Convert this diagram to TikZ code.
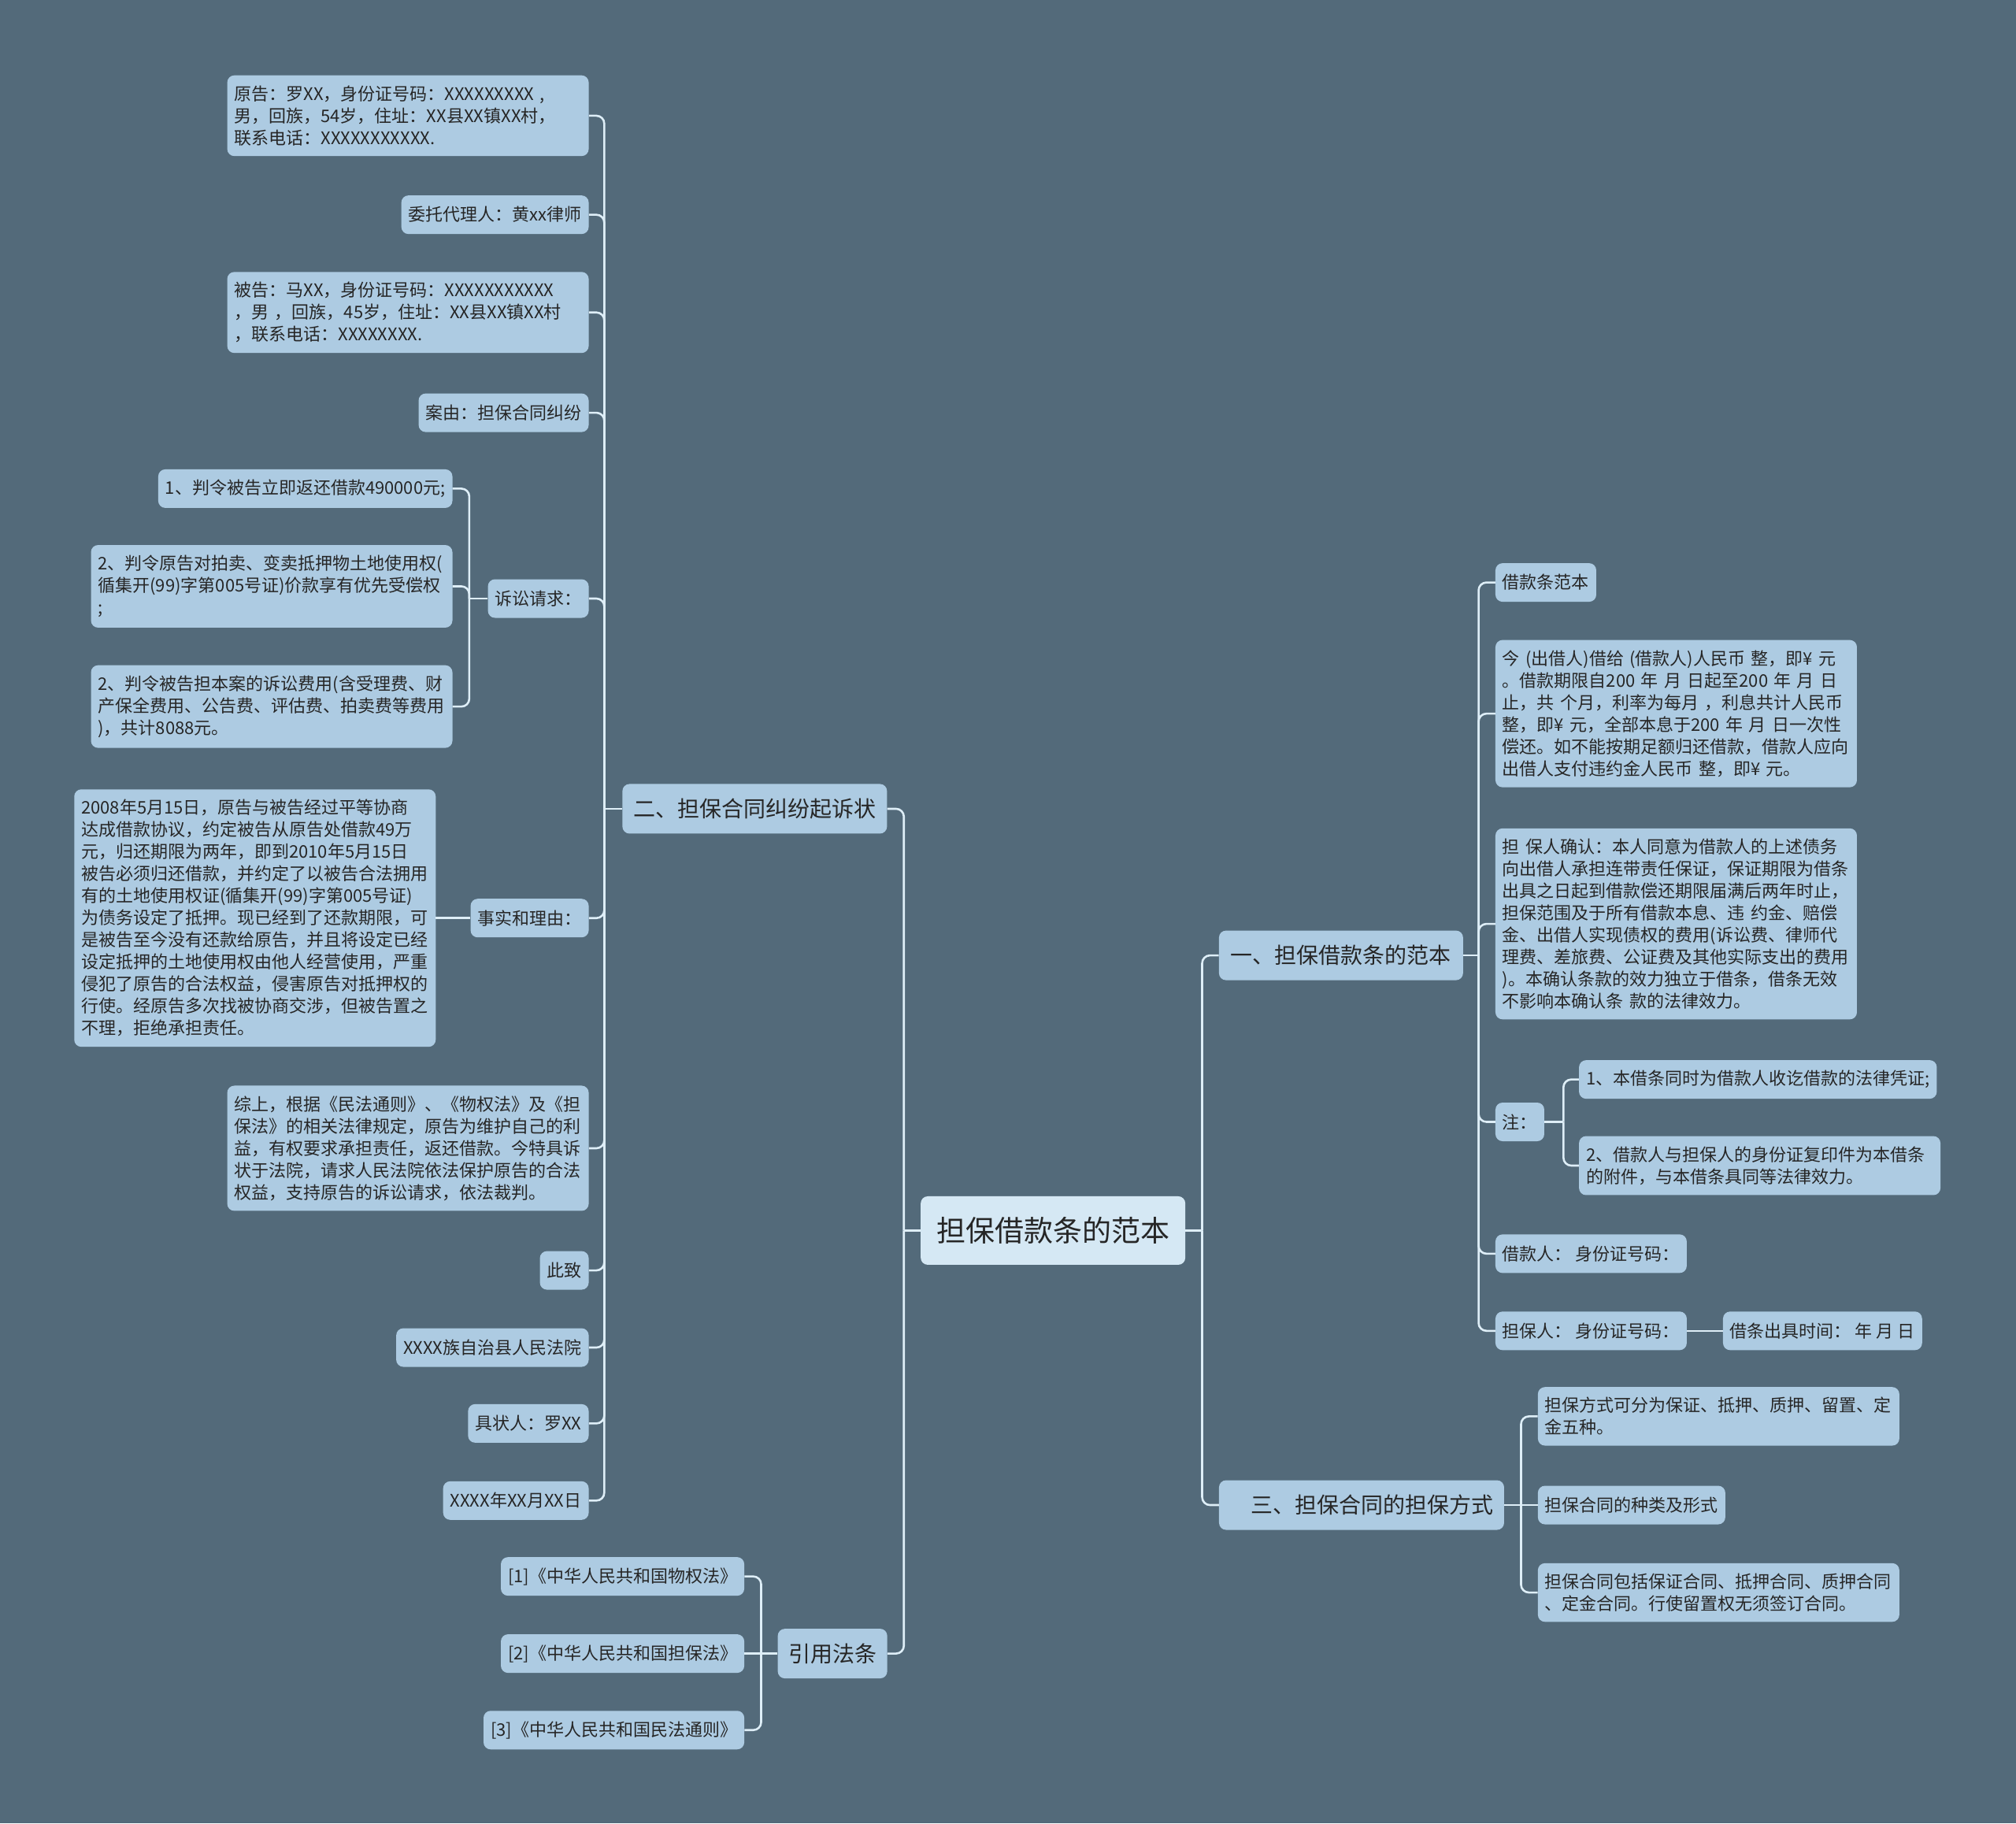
\documentclass[tikz,border=0pt]{standalone}
\usepackage{fontspec}
\setmainfont{Noto Sans CJK SC}
\definecolor{bgc}{RGB}{83,106,122}
\definecolor{boxc}{RGB}{173,203,226}
\definecolor{rootc}{RGB}{213,232,244}
\definecolor{linec}{RGB}{222,238,247}
\definecolor{txtc}{RGB}{38,38,38}
\begin{document}
\begin{tikzpicture}[x=1.6327pt,y=-1.6327pt,
  box/.style={fill=boxc,text=txtc,rounded corners=9pt,inner xsep=9pt,inner ysep=13pt,minimum height=49pt,font=\fontsize{22}{28}\selectfont},
  para/.style={box,text width=441pt,align=left},
  head/.style={box,font=\fontsize{28}{34}\selectfont,minimum height=63pt},
  link/.style={draw=linec,line width=2.6pt,rounded corners=10pt}]
\fill[bgc] (0,0) rectangle (1568,1418);
\node[box,fill=rootc,font=\fontsize{37}{44}\selectfont,minimum width=336pt,minimum height=87pt] (top) at (819,957) {担保借款条的范本};
\node[head,minimum width=336pt] (b2) at (587,629) {二、担保合同纠纷起诉状};
\node[head,minimum width=139pt] (law) at (647.5,1286) {引用法条};
\node[head,minimum width=310pt] (b1) at (1043,743) {一、担保借款条的范本};
\node[head,inner xsep=13pt,anchor=west] (b3) at (948,1170.5) {\hspace*{28pt}三、担保合同的担保方式};
% left: complaint
\node[para,anchor=east] (plf) at (458,90) {原告：罗XX，身份证号码：XXXXXXXXX~,\\男，回族，54岁，住址：XX县XX镇XX村，\\联系电话：XXXXXXXXXXX.};
\node[box,anchor=east] (agent) at (458,167) {委托代理人：黄xx律师};
\node[para,anchor=east] (dft) at (458,243) {被告：马XX，身份证号码：XXXXXXXXXXX\\，男~，回族，45岁，住址：XX县XX镇XX村\\，联系电话：XXXXXXXX.};
\node[box,anchor=east] (cause) at (458,321) {案由：担保合同纠纷};
\node[box,anchor=east] (claim) at (458,465.5) {诉讼请求：};
\node[box,anchor=east] (fact) at (458,714) {事实和理由：};
\node[para,anchor=east] (sum) at (458,893) {综上，根据《民法通则》、《物权法》及《担\\保法》的相关法律规定，原告为维护自己的利\\益，有权要求承担责任，返还借款。今特具诉\\状于法院，请求人民法院依法保护原告的合法\\权益，支持原告的诉讼请求，依法裁判。};
\node[box,anchor=east] (greet) at (458,988) {此致};
\node[box,anchor=east] (court) at (458,1048) {XXXX族自治县人民法院};
\node[box,anchor=east] (signer) at (458,1107) {具状人：罗XX};
\node[box,anchor=east] (date) at (458,1167) {XXXX年XX月XX日};
\node[box,anchor=east] (cl1) at (352,380) {1、判令被告立即返还借款490000元;};
\node[para,anchor=east] (cl2) at (352,456) {2、判令原告对拍卖、变卖抵押物土地使用权(\\循集开(99)字第005号证)价款享有优先受偿权\\;};
\node[para,anchor=east] (cl3) at (352,549.5) {2、判令被告担本案的诉讼费用(含受理费、财\\产保全费用、公告费、评估费、拍卖费等费用\\)，共计8088元。};
\node[para,anchor=east] (factp) at (339,714) {2008年5月15日，原告与被告经过平等协商\\达成借款协议，约定被告从原告处借款49万\\元，归还期限为两年，即到2010年5月15日\\被告必须归还借款，并约定了以被告合法拥用\\有的土地使用权证(循集开(99)字第005号证)\\为债务设定了抵押。现已经到了还款期限，可\\是被告至今没有还款给原告，并且将设定已经\\设定抵押的土地使用权由他人经营使用，严重\\侵犯了原告的合法权益，侵害原告对抵押权的\\行使。经原告多次找被协商交涉，但被告置之\\不理，拒绝承担责任。};
\node[box,anchor=east] (law1) at (579,1226) {[1]《中华人民共和国物权法》};
\node[box,anchor=east] (law2) at (579,1286) {[2]《中华人民共和国担保法》};
\node[box,anchor=east] (law3) at (579,1345.5) {[3]《中华人民共和国民法通则》};
% right: sample note
\node[box,anchor=west] (tpl) at (1163,453) {借款条范本};
\node[para,anchor=west] (loan) at (1163,555) {今~(出借人)借给~(借款人)人民币~整，即¥~元\\。借款期限自200~年~月~日起至200~年~月~日\\止，共~个月，利率为每月~，利息共计人民币\\整，即¥~元，全部本息于200~年~月~日一次性\\偿还。如不能按期足额归还借款，借款人应向\\出借人支付违约金人民币~整，即¥~元。};
\node[para,anchor=west] (guar) at (1163,718.5) {担~保人确认：本人同意为借款人的上述债务\\向出借人承担连带责任保证，保证期限为借条\\出具之日起到借款偿还期限届满后两年时止，\\担保范围及于所有借款本息、违~约金、赔偿\\金、出借人实现债权的费用(诉讼费、律师代\\理费、差旅费、公证费及其他实际支出的费用\\)。本确认条款的效力独立于借条，借条无效\\不影响本确认条~款的法律效力。};
\node[box,anchor=west] (note) at (1163,872.5) {注：};
\node[box,anchor=west] (brw) at (1163,975) {借款人：~身份证号码：};
\node[box,anchor=west] (gnt) at (1163,1035) {担保人：~身份证号码：};
\node[box,anchor=west] (note1) at (1228,839.5) {1、本借条同时为借款人收讫借款的法律凭证;};
\node[para,anchor=west] (note2) at (1228,906.5) {2、借款人与担保人的身份证复印件为本借条\\的附件，与本借条具同等法律效力。};
\node[box,anchor=west] (when) at (1340,1035) {借条出具时间：~年~月~日};
\node[para,anchor=west] (way1) at (1196,1101.5) {担保方式可分为保证、抵押、质押、留置、定\\金五种。};
\node[box,anchor=west] (way2) at (1196,1170.5) {担保合同的种类及形式};
\node[para,anchor=west] (way3) at (1196,1238.5) {担保合同包括保证合同、抵押合同、质押合同\\、定金合同。行使留置权无须签订合同。};
% connectors
\coordinate (jl) at (703,957);
\coordinate (jr) at (935,957);
\coordinate (j2) at (470,629);
\coordinate (j5) at (365,465.5);
\coordinate (j6) at (592,1286);
\coordinate (j1) at (1150,743);
\coordinate (j7) at (1216,872.5);
\coordinate (j3) at (1183,1170.5);
\draw[link] (top.west) -- (jl);
\draw[link] (top.east) -- (jr);
\foreach \c in {b2,law} \draw[link] (jl) |- (\c.east);
\foreach \c in {b1,b3} \draw[link] (jr) |- (\c.west);
\draw[link] (b2.west) -- (j2);
\foreach \c in {plf,agent,dft,cause,claim,fact,sum,greet,court,signer,date} \draw[link] (j2) |- (\c.east);
\draw[link] (claim.west) -- (j5);
\foreach \c in {cl1,cl2,cl3} \draw[link] (j5) |- (\c.east);
\draw[link] (fact.west) -- (factp.east);
\draw[link] (law.west) -- (law2.east);
\foreach \c in {law1,law3} \draw[link] (j6) |- (\c.east);
\draw[link] (b1.east) -- (j1);
\foreach \c in {tpl,loan,guar,note,brw,gnt} \draw[link] (j1) |- (\c.west);
\draw[link] (note.east) -- (j7);
\foreach \c in {note1,note2} \draw[link] (j7) |- (\c.west);
\draw[link] (gnt.east) -- (when.west);
\draw[link] (b3.east) -- (way2.west);
\foreach \c in {way1,way3} \draw[link] (j3) |- (\c.west);
\end{tikzpicture}
\end{document}
